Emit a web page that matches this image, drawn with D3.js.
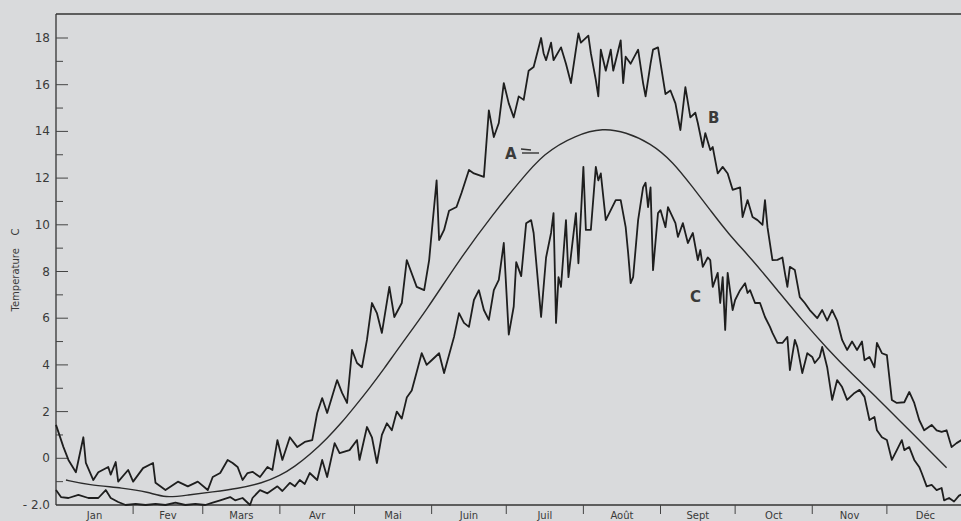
<!DOCTYPE html>
<html>
<head>
<meta charset="utf-8">
<script src="https://cdn.jsdelivr.net/npm/d3@7"></script>
<style>
  body { margin: 0; background: #d9dadc; }
  svg { display: block; }
  text { font-family: "DejaVu Sans", sans-serif; fill: #3a3a3a; }
</style>
</head>
<body>
<svg id="chart" width="961" height="521"></svg>
<script>
// month names and first day of each month (day of year)
var months = ["Jan", "Fev", "Mars", "Avr", "Mai", "Juin", "Juil", "Août", "Sept", "Oct", "Nov", "Déc"];
var monthStarts = [0, 31, 59, 90, 120, 151, 181, 212, 243, 273, 304, 334, 365];
var yTicks = [-2, 0, 2, 4, 6, 8, 10, 12, 14, 16, 18];

// A : mean curve
var daysA = [4, 13, 27, 37, 44, 53, 63, 73, 83, 90, 96, 102, 109, 115, 120, 126, 132, 138, 149, 162, 176, 186, 196, 209, 220, 229, 239, 248, 256, 263, 270, 280, 290, 300, 310, 320, 330, 343, 358];
var tempA = [-0.93, -1.14, -1.27, -1.44, -1.7, -1.57, -1.44, -1.3, -1.06, -0.75, -0.35, 0.15, 0.85, 1.55, 2.2, 3.0, 3.85, 4.77, 6.35, 8.49, 10.5, 11.8, 13.07, 13.85, 14.15, 13.97, 13.5, 12.7, 11.6, 10.63, 9.65, 8.49, 7.2, 5.9, 4.7, 3.6, 2.6, 1.2, -0.4];

// B : upper daily curve
var daysB = [0, 3, 5, 8, 11, 12, 15, 17, 21, 22, 24, 25, 29, 31, 35, 39, 40, 44, 49, 53, 57, 61, 63, 66, 69, 71, 73, 75, 77, 79, 82, 85, 87, 89, 91, 94, 97, 100, 103, 105, 107, 109, 113, 115, 117, 119, 121, 123, 125, 127, 129, 131, 134, 136, 139, 141, 145, 148, 150, 151, 153, 154, 156, 158, 161, 163, 166, 168, 172, 174, 176, 178, 180, 182, 184, 186, 188, 190, 192, 195, 196, 197, 199, 200, 203, 205, 207, 209, 210, 211, 214, 215, 217, 218, 219, 221, 223, 224, 227, 228, 229, 231, 234, 236, 237, 239, 240, 242, 245, 247, 249, 251, 253, 255, 257, 258, 260, 261, 263, 264, 266, 268, 270, 272, 275, 276, 278, 280, 282, 284, 285, 286, 288, 290, 292, 293, 294, 295, 297, 299, 301, 303, 306, 308, 310, 312, 314, 316, 318, 320, 322, 324, 325, 327, 329, 330, 332, 334, 336, 338, 341, 343, 345, 347, 349, 352, 354, 356, 358, 360, 362, 364];
var tempB = [1.43, 0.48, -0.07, -0.6, 0.9, -0.2, -0.93, -0.6, -0.37, -0.7, -0.16, -1.0, -0.5, -1.0, -0.42, -0.2, -1.05, -1.36, -1.0, -1.2, -1.0, -1.36, -0.8, -0.63, -0.07, -0.2, -0.37, -0.93, -0.63, -0.58, -0.8, -0.37, -0.5, 0.78, -0.07, 0.9, 0.48, 0.7, 0.78, 1.94, 2.58, 1.94, 3.35, 2.8, 2.37, 4.64, 4.08, 3.9, 5.07, 6.65, 6.22, 5.37, 7.34, 6.05, 6.65, 8.49, 7.34, 7.2, 8.49, 9.65, 11.9, 9.35, 9.78, 10.6, 10.76, 11.36, 12.35, 12.2, 12.05, 14.9, 13.76, 14.36, 16.07, 15.2, 14.6, 15.5, 15.35, 16.6, 16.76, 18.0, 17.35, 17.05, 17.8, 17.05, 17.6, 16.9, 16.07, 17.5, 18.2, 17.8, 18.1, 17.35, 16.2, 15.5, 17.5, 16.6, 17.5, 16.6, 17.9, 16.07, 17.2, 16.9, 17.5, 16.07, 15.5, 16.9, 17.5, 17.6, 15.6, 15.75, 15.2, 14.06, 15.9, 14.6, 14.8, 14.36, 13.33, 13.93, 13.2, 13.33, 12.2, 12.48, 12.2, 11.5, 11.6, 10.33, 11.06, 10.33, 10.2, 10.0, 11.06, 9.9, 8.49, 8.5, 8.6, 7.94, 7.34, 8.2, 8.06, 6.9, 6.65, 6.35, 6.0, 6.35, 5.9, 6.35, 5.9, 5.07, 4.64, 5.0, 4.64, 5.0, 4.2, 4.34, 3.9, 4.94, 4.5, 4.42, 2.5, 2.37, 2.4, 2.84, 2.37, 1.64, 1.2, 1.43, 1.2, 1.13, 1.2, 0.48, 0.65, 0.78];

// C : lower daily curve
var daysC = [0, 2, 5, 9, 13, 17, 20, 22, 25, 28, 32, 36, 40, 44, 48, 52, 56, 60, 63, 66, 70, 72, 75, 78, 79, 82, 85, 89, 91, 94, 96, 98, 100, 102, 105, 107, 109, 112, 114, 118, 121, 122, 125, 127, 129, 131, 133, 135, 137, 139, 141, 143, 145, 147, 149, 151, 154, 156, 160, 162, 164, 166, 168, 170, 172, 174, 176, 178, 180, 182, 184, 185, 187, 189, 191, 192, 195, 197, 199, 200, 201, 202, 203, 205, 206, 209, 210, 212, 213, 215, 217, 218, 219, 221, 223, 225, 227, 229, 230, 231, 232, 234, 236, 237, 238, 239, 240, 242, 243, 245, 246, 249, 250, 252, 254, 256, 258, 259, 260, 262, 263, 264, 266, 267, 268, 269, 270, 272, 273, 275, 277, 278, 279, 281, 283, 285, 287, 288, 290, 292, 294, 295, 297, 298, 300, 302, 304, 305, 307, 308, 310, 312, 314, 316, 318, 321, 323, 325, 327, 329, 330, 332, 334, 336, 338, 340, 341, 343, 345, 347, 348, 350, 352, 354, 356, 357, 359, 361, 363, 365];
var tempC = [-1.36, -1.66, -1.7, -1.57, -1.7, -1.7, -1.36, -1.7, -1.87, -2.0, -1.95, -2.0, -1.95, -2.0, -1.9, -2.0, -1.95, -2.0, -1.9, -1.8, -1.66, -1.8, -1.7, -2.0, -1.7, -1.36, -1.5, -1.2, -1.4, -1.05, -1.2, -0.93, -1.1, -0.63, -0.93, -0.07, -0.8, 0.65, 0.22, 0.35, 0.78, -0.07, 1.34, 0.9, -0.2, 1.0, 1.5, 1.2, 2.0, 1.7, 2.6, 2.9, 3.7, 4.5, 4.0, 4.2, 4.5, 3.65, 5.2, 6.22, 5.8, 5.63, 6.78, 7.2, 6.35, 5.93, 7.2, 7.64, 9.22, 5.3, 6.5, 8.4, 7.8, 10.07, 10.2, 9.65, 6.05, 8.6, 9.65, 10.5, 5.8, 7.76, 7.34, 10.2, 7.76, 10.5, 8.35, 12.48, 9.78, 9.78, 12.48, 11.9, 12.2, 10.2, 10.63, 11.06, 11.06, 9.9, 8.78, 7.5, 7.76, 10.2, 11.6, 11.8, 10.76, 11.6, 8.06, 10.5, 10.63, 9.9, 10.76, 10.07, 9.48, 10.07, 9.22, 9.65, 8.49, 8.92, 8.2, 8.6, 8.49, 7.34, 7.94, 6.65, 7.76, 5.5, 7.94, 6.35, 6.78, 7.2, 7.5, 7.08, 7.2, 6.65, 6.65, 6.05, 5.63, 5.37, 4.94, 4.94, 5.2, 3.78, 5.07, 4.77, 3.65, 4.5, 4.34, 4.08, 4.34, 4.77, 3.9, 2.5, 3.35, 3.05, 2.5, 2.8, 2.93, 2.63, 1.64, 1.77, 1.2, 0.9, 0.78, -0.07, 0.35, 0.78, 0.35, 0.48, -0.07, -0.37, -0.63, -1.2, -1.14, -1.36, -1.27, -1.8, -1.7, -1.85, -1.6, -1.5];

var svg = d3.select("#chart");

var x = d3.scaleLinear().domain([0, 365]).range([56, 964]);
var y = d3.scaleLinear().domain([-2, 18]).range([505, 38]);

// frame : left axis, top line, bottom axis
svg.append("line").attr("x1", 56).attr("x2", 56).attr("y1", 14).attr("y2", 505)
    .attr("stroke", "#333").attr("stroke-width", 1.3);
svg.append("line").attr("x1", 56).attr("x2", 961).attr("y1", 14).attr("y2", 14)
    .attr("stroke", "#333").attr("stroke-width", 1.3);
svg.append("line").attr("x1", 56).attr("x2", 961).attr("y1", 505).attr("y2", 505)
    .attr("stroke", "#333").attr("stroke-width", 1.3);

// y axis ticks (major labelled, minor in between)
var minor = d3.range(-1, 18, 2);
svg.selectAll(".minor").data(minor).enter().append("line")
    .attr("x1", 56).attr("x2", 63)
    .attr("y1", function (d) { return y(d); })
    .attr("y2", function (d) { return y(d); })
    .attr("stroke", "#444").attr("stroke-width", 1);

svg.selectAll(".major").data(yTicks.slice(1)).enter().append("line")
    .attr("x1", 56).attr("x2", 68)
    .attr("y1", function (d) { return y(d); })
    .attr("y2", function (d) { return y(d); })
    .attr("stroke", "#444").attr("stroke-width", 1);

svg.selectAll(".ylab").data(yTicks).enter().append("text")
    .attr("x", 50)
    .attr("y", function (d) { return y(d) + 4; })
    .attr("text-anchor", "end")
    .attr("font-size", 12)
    .style("white-space", "pre")
    .text(function (d) { return d === -2 ? "- 2.0" : d; });

svg.append("text")
    .attr("transform", "translate(19,270) rotate(-90)")
    .attr("text-anchor", "middle")
    .attr("font-size", 10)
    .style("white-space", "pre")
    .text("Temperature    C");

// month ticks and labels
svg.selectAll(".mtick").data(monthStarts.slice(1, 12)).enter().append("line")
    .attr("x1", function (d) { return x(d); })
    .attr("x2", function (d) { return x(d); })
    .attr("y1", 505).attr("y2", 514)
    .attr("stroke", "#444").attr("stroke-width", 1);

svg.selectAll(".mlab").data(months).enter().append("text")
    .attr("x", function (d, i) { return x((monthStarts[i] + monthStarts[i + 1]) / 2); })
    .attr("y", 519)
    .attr("text-anchor", "middle")
    .attr("font-size", 10)
    .text(function (d) { return d; });

// curves
var line = d3.line()
    .x(function (d) { return x(d[0]); })
    .y(function (d) { return y(d[1]); });

var smooth = d3.line()
    .x(function (d) { return x(d[0]); })
    .y(function (d) { return y(d[1]); })
    .curve(d3.curveBasis);

svg.append("path")
    .datum(d3.zip(daysA, tempA))
    .attr("fill", "none").attr("stroke", "#2b2b2b").attr("stroke-width", 1.4)
    .attr("d", smooth);

svg.append("path")
    .datum(d3.zip(daysB, tempB))
    .attr("fill", "none").attr("stroke", "#1e1e1e").attr("stroke-width", 1.8)
    .attr("stroke-linejoin", "round")
    .attr("d", line);

svg.append("path")
    .datum(d3.zip(daysC, tempC))
    .attr("fill", "none").attr("stroke", "#1e1e1e").attr("stroke-width", 1.8)
    .attr("stroke-linejoin", "round")
    .attr("d", line);

// curve labels
svg.append("text").attr("x", 505).attr("y", 159).attr("font-size", 15).attr("font-weight", "bold").text("A");
svg.append("line").attr("x1", 521).attr("x2", 531).attr("y1", 149).attr("y2", 150)
    .attr("stroke", "#333").attr("stroke-width", 1.4);
svg.append("line").attr("x1", 522).attr("x2", 539).attr("y1", 153).attr("y2", 153)
    .attr("stroke", "#333").attr("stroke-width", 1.4);
svg.append("text").attr("x", 708).attr("y", 123).attr("font-size", 15).attr("font-weight", "bold").text("B");
svg.append("text").attr("x", 690).attr("y", 302).attr("font-size", 15).attr("font-weight", "bold").text("C");
</script>
</body>
</html>
